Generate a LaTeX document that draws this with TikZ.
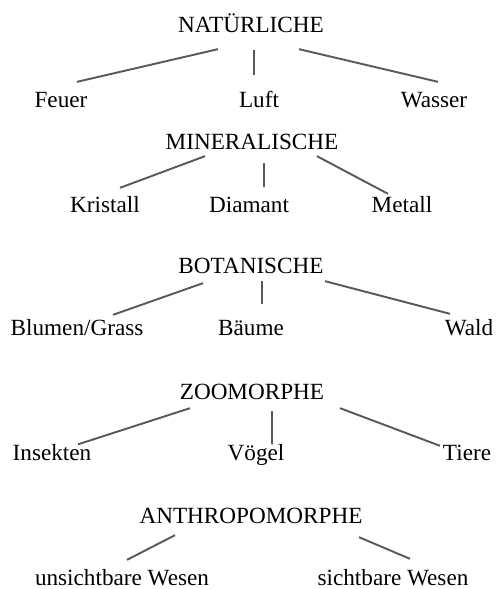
\documentclass[tikz,border=0pt]{standalone}
\usepackage{fontspec}
\setmainfont{Liberation Serif}
\definecolor{linegray}{gray}{0.35}

\begin{document}
\begin{tikzpicture}[line width=1.1pt,
  label/.style={inner sep=0pt,text height=0.308cm,text depth=0pt,
    font=\fontsize{13.2}{16}\selectfont},
  branch/.style={draw=linegray,line width=1.1pt}]
\useasboundingbox (0,0) rectangle (9.92,-11.78);
% natural
\node[label] (nat) at (5.02,-0.50) {NATÜRLICHE};
\node[label] (feu) at (1.22,-2.00) {Feuer};
\node[label] (luft) at (5.18,-2.00) {Luft};
\node[label] (was) at (8.68,-2.00) {Wasser};
\draw[branch] ([shift={(-0.66,-0.31)}]nat.south) -- ([shift={(0.32,0.19)}]feu.north);
\draw[branch] ([shift={(0.06,-0.33)}]nat.south) -- ([shift={(-0.10,0.33)}]luft.north);
\draw[branch] ([shift={(0.96,-0.31)}]nat.south) -- ([shift={(0.08,0.19)}]was.north);
% mineral
\node[label] (min) at (5.04,-2.84) {MINERALISCHE};
\node[label] (kri) at (2.10,-4.10) {Kristall};
\node[label] (dia) at (4.98,-4.10) {Diamant};
\node[label] (met) at (8.04,-4.10) {Metall};
\draw[branch] ([shift={(-0.94,-0.11)}]min.south) -- ([shift={(0.30,0.17)}]kri.north);
\draw[branch] ([shift={(0.24,-0.25)}]min.south) -- ([shift={(0.30,0.19)}]dia.north);
\draw[branch] ([shift={(1.30,-0.11)}]min.south) -- ([shift={(-0.28,0.05)}]met.north);
% botanical
\node[label] (bot) at (5.02,-5.32) {BOTANISCHE};
\node[label] (blu) at (1.54,-6.56) {Blumen/Grass};
\node[label] (bae) at (5.02,-6.56) {Bäume};
\node[label] (wal) at (9.38,-6.56) {Wald};
\draw[branch] ([shift={(-0.96,-0.17)}]bot.south) -- ([shift={(0.72,0.09)}]blu.north);
\draw[branch] ([shift={(0.22,-0.13)}]bot.south) -- ([shift={(0.22,0.31)}]bae.north);
\draw[branch] ([shift={(1.48,-0.13)}]bot.south) -- ([shift={(-0.38,0.11)}]wal.north);
% zoomorphic
\node[label] (zoo) at (5.04,-7.84) {ZOOMORPHE};
\node[label] (ins) at (1.04,-9.06) {Insekten};
\node[label] (voe) at (5.12,-9.06) {Vögel};
\node[label] (tie) at (9.34,-9.06) {Tiere};
\draw[branch] ([shift={(-1.24,-0.15)}]zoo.south) -- ([shift={(0.52,0)}]ins.north);
\draw[branch] ([shift={(0.40,-0.21)}]zoo.south) -- ([shift={(0.32,0)}]voe.north);
\draw[branch] ([shift={(1.76,-0.15)}]zoo.south) -- ([shift={(-0.54,-0.03)}]tie.north);
% anthropomorphic
\node[label] (ant) at (5.02,-10.32) {ANTHROPOMORPHE};
\node[label] (unw) at (2.44,-11.56) {unsichtbare Wesen};
\node[label] (siw) at (7.86,-11.56) {sichtbare Wesen};
\draw[branch] ([shift={(-1.52,-0.21)}]ant.south) -- ([shift={(0.10,0.19)}]unw.north);
\draw[branch] ([shift={(2.16,-0.25)}]ant.south) -- ([shift={(0.34,0.21)}]siw.north);
\end{tikzpicture}
\end{document}
